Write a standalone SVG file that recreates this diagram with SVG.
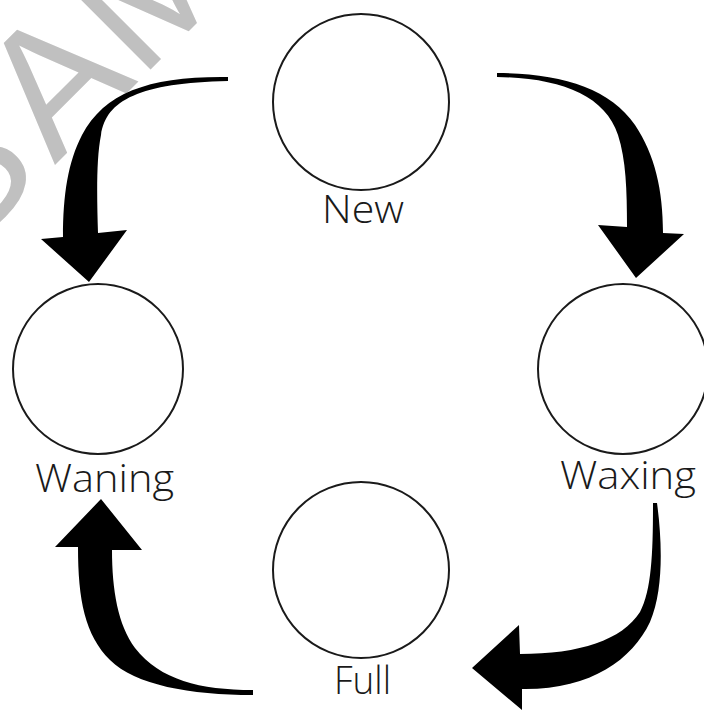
<svg xmlns="http://www.w3.org/2000/svg" width="704" height="710" viewBox="0 0 704 710">
<style>
.bg{fill:#ffffff}
.moon{fill:#ffffff;stroke:#1a1a1a;stroke-width:2}
.lbl{font-family:"Open Sans","Liberation Sans",sans-serif;font-weight:300;font-size:38px;fill:#1a1a1a;text-anchor:start}
.arrow{fill:#000000;stroke:none}
.wm{font-family:"Liberation Sans","DejaVu Sans",sans-serif;font-size:178px;fill:#c0c0c0}
</style>
<rect class="bg" x="0" y="0" width="704" height="710"/>
<text class="wm" x="-38 93 214" y="258" transform="rotate(-45 -38 258)">SAM</text>
<g id="connectors">
  <path id="new-to-waxing" class="arrow" d="M497,73 C560,73 610,88 635,125 C655,155 663,190 663,233 L684,234 L636,278 L598,225 L627,227 C627,190 626,160 618,135 C605,95 560,78 497,77 Z"/>
  <path id="waxing-to-full" class="arrow" d="M653,503 L657,503 C662,540 664,590 650,622 C632,660 590,690 522,689 L522,710 L472,668 L519,625 L520,654 C580,654 622,640 640,612 C652,590 653,550 653,503 Z"/>
  <path id="full-to-waning" class="arrow" d="M253,690 L253,695 C190,695 135,685 110,660 C85,635 78,600 78,547 L55,547 L101,499 L142,550 L112,550 C112,590 118,625 135,648 C160,680 200,690 253,690 Z"/>
  <path id="waning-to-new" class="arrow" d="M228,77 L228,81 C140,83 106,100 101,135 C96,160 97,200 98,233 L127,230 L89,282 L41,239 L63,237 C63,195 68,162 82,135 C105,92 150,76 228,77 Z"/>
</g>
<g id="new">
  <circle class="moon" cx="361" cy="102" r="88"/>
  <text class="lbl" x="322" y="223" textLength="82" lengthAdjust="spacingAndGlyphs">New</text>
</g>
<g id="waxing">
  <circle class="moon" cx="623" cy="369" r="85"/>
  <text class="lbl" x="560" y="489" textLength="136" lengthAdjust="spacingAndGlyphs">Waxing</text>
</g>
<g id="full">
  <circle class="moon" cx="361" cy="570" r="88"/>
  <text class="lbl" x="334" y="694" textLength="57" lengthAdjust="spacingAndGlyphs">Full</text>
</g>
<g id="waning">
  <circle class="moon" cx="98" cy="369" r="85"/>
  <text class="lbl" x="35" y="492" textLength="139" lengthAdjust="spacingAndGlyphs">Waning</text>
</g>
</svg>
